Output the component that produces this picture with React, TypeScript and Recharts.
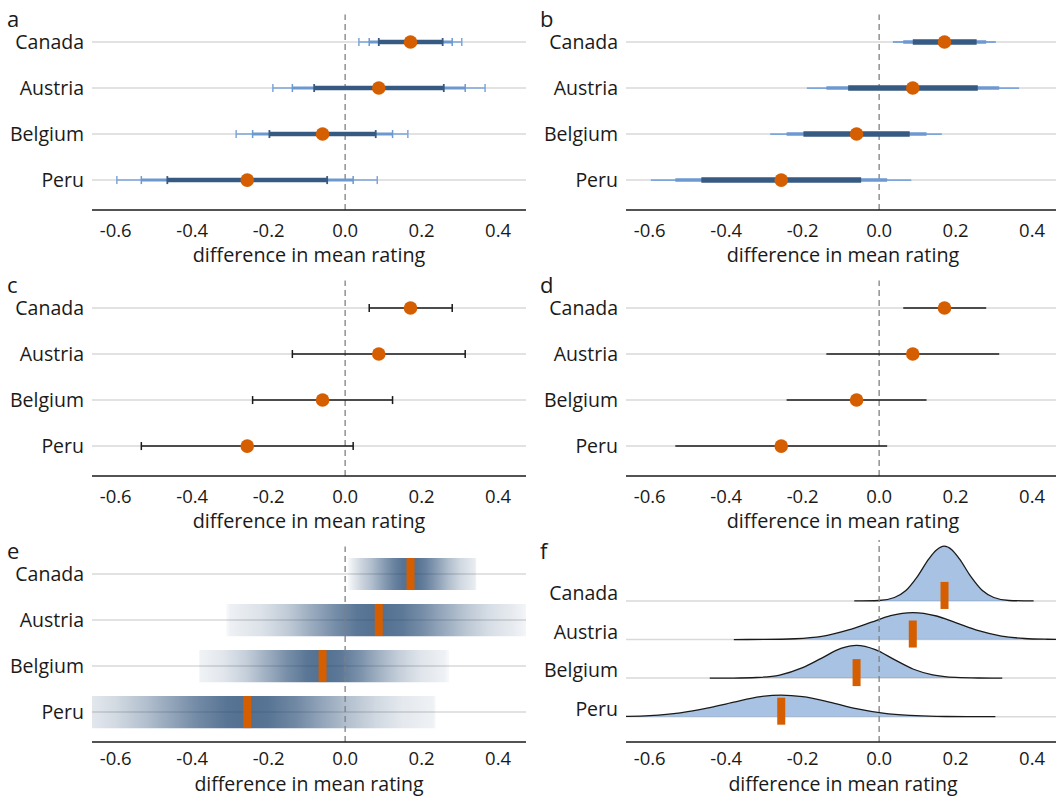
import React from 'react';
import {
  ComposedChart,
  Scatter,
  ErrorBar,
  XAxis,
  YAxis,
  CartesianGrid,
  ReferenceLine,
  ReferenceArea,
  Area,
} from 'recharts';

// ---------- data ----------
const countries = ['Canada', 'Austria', 'Belgium', 'Peru'];
const means = [0.171, 0.088, -0.059, -0.256];
const ci80Lo = [0.088, -0.081, -0.198, -0.465];
const ci80Hi = [0.255, 0.258, 0.08, -0.047];
const ci95Lo = [0.063, -0.138, -0.242, -0.533];
const ci95Hi = [0.28, 0.314, 0.124, 0.021];
const ci99Lo = [0.036, -0.189, -0.285, -0.597];
const ci99Hi = [0.305, 0.366, 0.164, 0.084];

// extent of the gradient bands (panel e)
const bandLo = [0.007, -0.311, -0.382, -0.749];
const bandHi = [0.343, 0.487, 0.272, 0.237];

// density curves (panel f): [x, height in row units]
const canadaDensity = [
  [-0.065, 0], [0.0, 0.012], [0.04, 0.09], [0.07, 0.27], [0.1, 0.63], [0.13, 1.09],
  [0.15, 1.32], [0.17, 1.42], [0.19, 1.33], [0.21, 1.09], [0.24, 0.63], [0.27, 0.27],
  [0.3, 0.09], [0.34, 0.012], [0.404, 0],
];
const austriaDensity = [
  [-0.38, 0], [-0.3, 0.003], [-0.22, 0.02], [-0.15, 0.08], [-0.08, 0.25], [-0.02, 0.45],
  [0.03, 0.62], [0.088, 0.7], [0.15, 0.61], [0.2, 0.44], [0.26, 0.23], [0.32, 0.09],
  [0.38, 0.027], [0.44, 0.007], [0.5, 0.001], [0.56, 0],
];
const belgiumDensity = [
  [-0.443, 0], [-0.38, 0.002], [-0.32, 0.016], [-0.26, 0.08], [-0.2, 0.27], [-0.15, 0.52],
  [-0.1, 0.77], [-0.059, 0.85], [-0.01, 0.74], [0.04, 0.48], [0.09, 0.23], [0.14, 0.085],
  [0.2, 0.018], [0.26, 0.003], [0.322, 0],
];
const peruDensity = [
  [-0.72, 0.003], [-0.66, 0.01], [-0.6, 0.03], [-0.52, 0.1], [-0.45, 0.22], [-0.38, 0.38],
  [-0.31, 0.52], [-0.256, 0.56], [-0.2, 0.52], [-0.13, 0.38], [-0.06, 0.21], [0.01, 0.094],
  [0.08, 0.033], [0.15, 0.008], [0.23, 0.002], [0.304, 0],
];
const densities = [canadaDensity, austriaDensity, belgiumDensity, peruDensity];

const xTicks = [-0.6, -0.4, -0.2, 0, 0.2, 0.4];
const yTicks = [1, 2, 3, 4];
const panelLetters = ['a', 'b', 'c', 'd', 'e', 'f'];
const xTitle = 'difference in mean rating';

// ---------- style ----------
const FONT = "'Open Sans', 'Noto Sans', sans-serif";
const INK = '#1a1a1a';
const ORANGE = '#d55e00';
const DARK = '#365a82';
const MID = '#6d98d0';
const LIGHT = '#7fa6d8';
const BAND = '#1f4570';
const RIDGE = '#4f86c6';
const GRID = '#d9d9d9';

const X_DOMAIN: [number, number] = [-0.662, 0.473];
const CHART_W = 526;
const CHART_H = 270;
const Y_AXIS_W = 92;
const Y_FONT = 19.5;
const X_FONT = 18.5;

const rows = countries.map((c, i) => ({
  country: c,
  x: means[i],
  y: countries.length - i,
  e80: [means[i] - ci80Lo[i], ci80Hi[i] - means[i]],
  e95: [means[i] - ci95Lo[i], ci95Hi[i] - means[i]],
  e99: [means[i] - ci99Lo[i], ci99Hi[i] - means[i]],
}));

const dot = (p: any) => <circle cx={p.cx} cy={p.cy} r={6.8} fill={ORANGE} />;
const barE = (p: any) => <rect x={p.cx - 4} y={p.cy - 16} width={8} height={32} fill={ORANGE} />;
const barF = (p: any) => <rect x={p.cx - 4} y={p.cy - 19} width={8} height={27} fill={ORANGE} />;

const nameOf = (v: number) => countries[countries.length - v];

const ridgeTick = (p: any) => (
  <text x={p.x} y={p.y} dy={-1} textAnchor="end" fill={INK} fontSize={Y_FONT} fontFamily={FONT}>
    {nameOf(p.payload.value)}
  </text>
);

function gradientStops(i: number) {
  const lo = bandLo[i];
  const hi = bandHi[i];
  const dens = densities[i];
  const peak = Math.max(...dens.map((d) => d[1]));
  const op = (h: number) => 0.03 + 0.74 * Math.sqrt(Math.max(0, h) / peak);
  const stops: { o: number; a: number }[] = [{ o: 0, a: 0.03 }];
  dens.forEach(([x, h]) => {
    if (x > lo && x < hi) stops.push({ o: (x - lo) / (hi - lo), a: op(h) });
  });
  stops.push({ o: 1, a: 0.03 });
  return stops;
}

function Panel({ kind, left, top, row }: { kind: string; left: number; top: number; row: number }) {
  const isF = kind === 'f';
  const yDomain = isF ? [0.344, 5.58] : [0.35, 4.6];
  const last = row === 2;
  return (
    <div style={{ position: 'absolute', left, top }}>
      <ComposedChart
        width={CHART_W}
        height={CHART_H}
        margin={{ top: isF ? 8 : 14.4, right: 0, bottom: 0, left: 0 }}
      >
        {kind === 'e' && (
          <defs>
            {countries.map((c, i) => (
              <linearGradient key={c} id={`gradE${i}`} x1="0" y1="0" x2="1" y2="0">
                {gradientStops(i).map((s, k) => (
                  <stop key={k} offset={s.o} stopColor={BAND} stopOpacity={s.a} />
                ))}
              </linearGradient>
            ))}
          </defs>
        )}
        <CartesianGrid
          vertical={false}
          horizontalValues={yTicks}
          stroke={GRID}
          strokeWidth={1.5}
        />
        <XAxis
          type="number"
          dataKey="x"
          domain={X_DOMAIN}
          ticks={xTicks}
          allowDataOverflow
          tickFormatter={(v: number) => v.toFixed(1)}
          tickLine={false}
          axisLine={{ stroke: INK, strokeWidth: 1.6 }}
          tick={{ fill: INK, fontSize: X_FONT }}
          tickMargin={last ? 4 : 8}
          height={60}
          label={{
            value: xTitle,
            position: 'insideBottom',
            offset: last ? 11 : 8,
            fill: INK,
            fontSize: last ? 19.5 : 19.8,
          }}
        />
        <YAxis
          type="number"
          dataKey="y"
          domain={yDomain}
          ticks={yTicks}
          allowDataOverflow
          axisLine={false}
          tickLine={false}
          width={Y_AXIS_W}
          tickFormatter={nameOf}
          tick={isF ? ridgeTick : { fill: INK, fontSize: Y_FONT }}
        />
        <ReferenceLine x={0} stroke="#808080" strokeWidth={1.3} strokeDasharray="6 4" />

        {kind === 'e' &&
          rows.map((r, i) => (
            <ReferenceArea
              key={r.country}
              x1={bandLo[i]}
              x2={bandHi[i]}
              y1={r.y - 0.35}
              y2={r.y + 0.35}
              fill={`url(#gradE${i})`}
              fillOpacity={1}
              stroke="none"
              ifOverflow="hidden"
            />
          ))}

        {isF &&
          rows.map((r, i) => (
            <Area
              key={r.country}
              data={densities[i].map(([x, h]) => ({ x, top: r.y + h }))}
              dataKey="top"
              baseValue={r.y}
              type="monotone"
              stroke={INK}
              strokeWidth={1.3}
              fill={RIDGE}
              fillOpacity={0.5}
              isAnimationActive={false}
              dot={false}
              activeDot={false}
            />
          ))}

        {kind === 'a' && (
          <Scatter data={rows} shape={dot} isAnimationActive={false}>
            <ErrorBar dataKey="e99" direction="x" width={4} stroke={LIGHT} strokeWidth={1.5} isAnimationActive={false} />
            <ErrorBar dataKey="e95" direction="x" width={0} stroke={MID} strokeWidth={3} isAnimationActive={false} />
            <ErrorBar dataKey="e95" direction="x" width={4} stroke={MID} strokeWidth={1.5} isAnimationActive={false} />
            <ErrorBar dataKey="e80" direction="x" width={0} stroke={DARK} strokeWidth={4.5} isAnimationActive={false} />
            <ErrorBar dataKey="e80" direction="x" width={4} stroke={DARK} strokeWidth={1.8} isAnimationActive={false} />
          </Scatter>
        )}
        {kind === 'b' && (
          <Scatter data={rows} shape={dot} isAnimationActive={false}>
            <ErrorBar dataKey="e99" direction="x" width={0} stroke={LIGHT} strokeWidth={1.8} isAnimationActive={false} />
            <ErrorBar dataKey="e95" direction="x" width={0} stroke={MID} strokeWidth={3.5} isAnimationActive={false} />
            <ErrorBar dataKey="e80" direction="x" width={0} stroke={DARK} strokeWidth={5.5} isAnimationActive={false} />
          </Scatter>
        )}
        {kind === 'c' && (
          <Scatter data={rows} shape={dot} isAnimationActive={false}>
            <ErrorBar dataKey="e95" direction="x" width={4} stroke={INK} strokeWidth={1.5} isAnimationActive={false} />
          </Scatter>
        )}
        {kind === 'd' && (
          <Scatter data={rows} shape={dot} isAnimationActive={false}>
            <ErrorBar dataKey="e95" direction="x" width={0} stroke={INK} strokeWidth={1.5} isAnimationActive={false} />
          </Scatter>
        )}
        {kind === 'e' && <Scatter data={rows} shape={barE} isAnimationActive={false} />}
        {isF && <Scatter data={rows} shape={barF} isAnimationActive={false} />}
      </ComposedChart>
    </div>
  );
}

export default function App() {
  return (
    <div
      style={{
        position: 'absolute',
        left: 0,
        top: 0,
        width: 1056,
        height: 796,
        overflow: 'hidden',
        background: '#fff',
        fontFamily: FONT,
      }}
    >
      {panelLetters.map((k, idx) => (
        <Panel
          key={k}
          kind={k}
          row={Math.floor(idx / 2)}
          left={(idx % 2) * 534}
          top={Math.floor(idx / 2) * 266}
        />
      ))}
      <svg
        width={1056}
        height={796}
        style={{ position: 'absolute', left: 0, top: 0, pointerEvents: 'none' }}
      >
        {panelLetters.map((k, idx) => (
          <text
            key={k}
            x={idx % 2 === 0 ? 7 : 540}
            y={27 + Math.floor(idx / 2) * 266}
            fontSize={22}
            fill={INK}
            fontFamily={FONT}
          >
            {k}
          </text>
        ))}
      </svg>
    </div>
  );
}
